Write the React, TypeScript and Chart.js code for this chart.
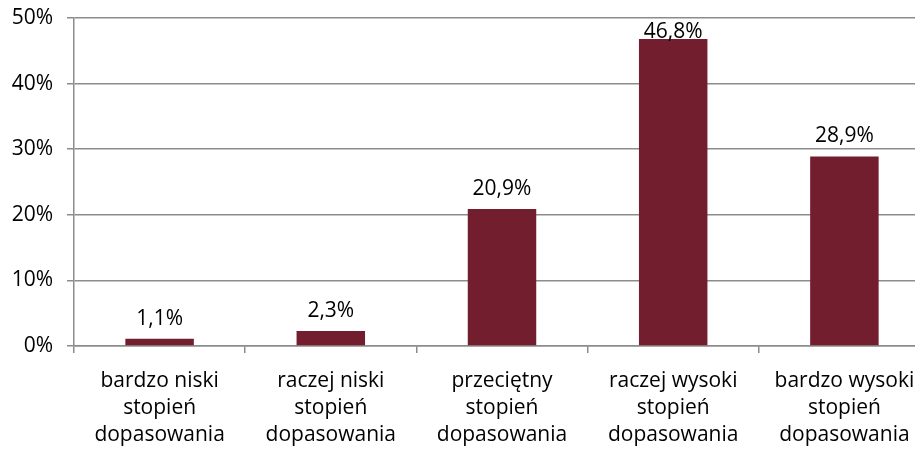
import React, { useEffect, useRef } from "react";
import { Chart, registerables } from "chart.js";

Chart.register(...registerables);

const categories: string[][] = [
  ["bardzo niski", "stopień", "dopasowania"],
  ["raczej niski", "stopień", "dopasowania"],
  ["przeciętny", "stopień", "dopasowania"],
  ["raczej wysoki", "stopień", "dopasowania"],
  ["bardzo wysoki", "stopień", "dopasowania"],
];
const shares: number[] = [1.1, 2.3, 20.9, 46.8, 28.9];
const yTicks: number[] = [0, 10, 20, 30, 40, 50];

const FONT = "'Open Sans', 'Noto Sans', sans-serif";
const FONT_SIZE = 21;
const BAR = "#721e2e";
const AXIS = "#8c8c8c";

// Value labels above each bar; the tallest one is kept inside the plot area.
const valueLabels = {
  id: "valueLabels",
  afterDatasetsDraw(chart: any) {
    const { ctx, chartArea } = chart;
    const meta = chart.getDatasetMeta(0);
    ctx.save();
    ctx.font = `${FONT_SIZE}px ${FONT}`;
    ctx.fillStyle = "#000";
    ctx.textAlign = "center";
    ctx.textBaseline = "alphabetic";
    meta.data.forEach((bar: any, i: number) => {
      const text = shares[i].toFixed(1).replace(".", ",") + "%";
      let y = bar.y - 14;
      const minBaseline = chartArea.top + 20;
      if (y < minBaseline) y = minBaseline;
      ctx.fillText(text, bar.x, y);
    });
    ctx.restore();
  },
};

export default function App() {
  const ref = useRef<HTMLCanvasElement | null>(null);

  useEffect(() => {
    if (!ref.current) return;
    const chart = new Chart(ref.current, {
      type: "bar",
      data: {
        labels: categories,
        datasets: [
          {
            data: shares,
            backgroundColor: BAR,
            borderWidth: 0,
            categoryPercentage: 1,
            barPercentage: 0.4,
          },
        ],
      },
      options: {
        animation: false,
        responsive: false,
        maintainAspectRatio: false,
        layout: { padding: { top: 18, left: 0, right: 0, bottom: 0 } },
        plugins: { legend: { display: false }, tooltip: { enabled: false } },
        scales: {
          x: {
            afterFit: (axis: any) => {
              axis.height = 103;
              axis.paddingLeft = 0;
              axis.paddingRight = 0;
            },
            grid: {
              display: true,
              drawOnChartArea: false,
              drawTicks: true,
              tickLength: 7,
              color: AXIS,
              lineWidth: 1.5,
              offset: true,
            },
            border: { display: true, color: AXIS, width: 1.5 },
            ticks: {
              color: "#000",
              font: { family: FONT, size: FONT_SIZE, lineHeight: 1.3 },
              padding: 14,
              maxRotation: 0,
              autoSkip: false,
            },
          },
          y: {
            min: 0,
            max: 50,
            afterBuildTicks: (axis: any) => {
              axis.ticks = yTicks.map((v) => ({ value: v }));
            },
            afterFit: (axis: any) => {
              axis.width = 74;
              axis.paddingTop = 0;
              axis.paddingBottom = 0;
            },
            grid: {
              color: AXIS,
              lineWidth: 1.5,
              tickLength: 7,
            },
            border: { display: true, color: AXIS, width: 1.5 },
            ticks: {
              color: "#000",
              font: { family: FONT, size: FONT_SIZE },
              padding: 14,
              callback: (v: any) => `${v}%`,
            },
          },
        },
      },
      plugins: [valueLabels],
    });
    return () => chart.destroy();
  }, []);

  return (
    <div
      style={{
        position: "fixed",
        left: 0,
        top: 0,
        width: 915,
        height: 449,
        overflow: "hidden",
        background: "#fff",
      }}
    >
      <canvas ref={ref} width={930} height={449} style={{ display: "block" }} />
    </div>
  );
}
